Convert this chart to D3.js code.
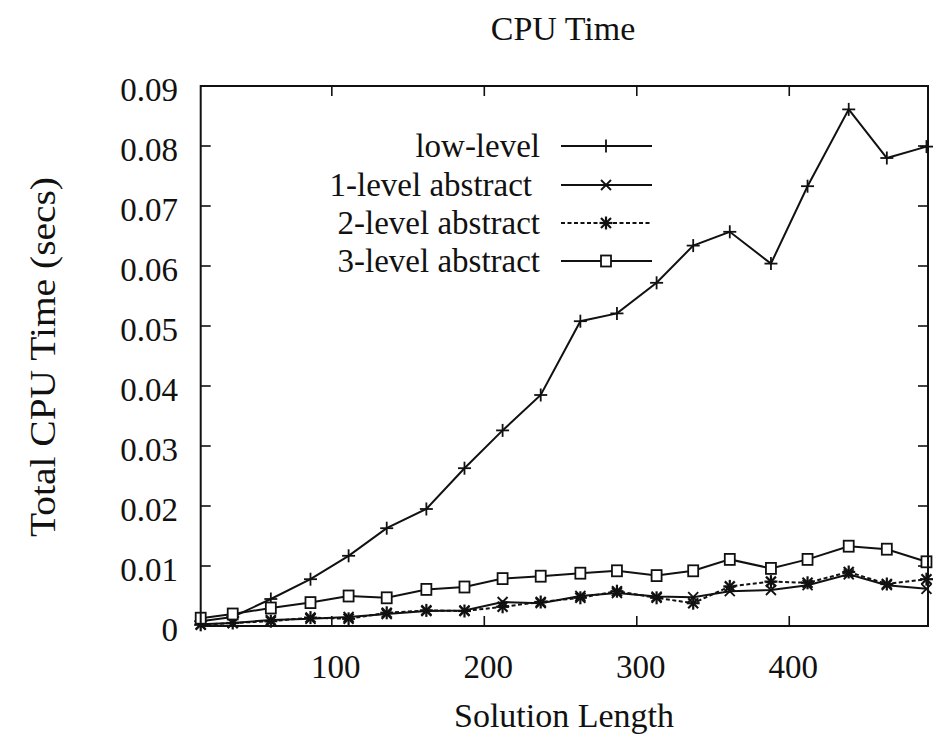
<!DOCTYPE html>
<html>
<head>
<meta charset="utf-8">
<script src="https://cdnjs.cloudflare.com/ajax/libs/d3/7.8.5/d3.min.js"></script>
<style>
  body { margin: 0; background: #fff; }
  text { font-family: "Liberation Serif", "DejaVu Serif", serif; fill: #111; }
</style>
</head>
<body>
<div id="chart"></div>
<script>
var width = 940,
    height = 746;

// solution length (x) for each measured point
var lengths = [14, 35, 60, 86, 111, 136, 162, 187, 212, 237, 263, 287, 313, 337, 361, 388, 412, 439, 464, 490];

// total cpu time in seconds
var lowLevel = [0.0008, 0.0015, 0.0045, 0.0078, 0.0117, 0.0163, 0.0195, 0.0263, 0.0326, 0.0385,
                0.0508, 0.0521, 0.0572, 0.0634, 0.0657, 0.0604, 0.0733, 0.0861, 0.0780, 0.0799];
var oneLevel = [0.0003, 0.0005, 0.0010, 0.0012, 0.0015, 0.0020, 0.0025, 0.0026, 0.0040, 0.0038,
                0.0050, 0.0055, 0.0049, 0.0048, 0.0058, 0.0060, 0.0068, 0.0086, 0.0068, 0.0062];
var twoLevel = [0.0002, 0.0005, 0.0008, 0.0014, 0.0012, 0.0022, 0.0026, 0.0025, 0.0032, 0.0040,
                0.0047, 0.0058, 0.0047, 0.0038, 0.0066, 0.0074, 0.0072, 0.0090, 0.0070, 0.0078];
var threeLevel = [0.0013, 0.0020, 0.0030, 0.0039, 0.0050, 0.0047, 0.0061, 0.0065, 0.0079, 0.0083,
                  0.0088, 0.0092, 0.0084, 0.0092, 0.0111, 0.0096, 0.0111, 0.0133, 0.0128, 0.0107];

var seriesNames = ['low-level', '1-level abstract', '2-level abstract', '3-level abstract'];
var xTicks = [100, 200, 300, 400];
var yTicks = [0, 0.01, 0.02, 0.03, 0.04, 0.05, 0.06, 0.07, 0.08, 0.09];

var series = [
  { name: seriesNames[0], values: lowLevel, marker: 'plus', dash: null },
  { name: seriesNames[1], values: oneLevel, marker: 'cross', dash: null },
  { name: seriesNames[2], values: twoLevel, marker: 'star', dash: '4,2.5' },
  { name: seriesNames[3], values: threeLevel, marker: 'square', dash: null }
];

// plot box
var plotL = 200.7, plotR = 928, plotT = 86, plotB = 626;

var svg = d3.select('#chart')
  .append('svg')
  .attr('width', width)
  .attr('height', height);

var x = d3.scaleLinear().domain([14, 491]).range([plotL, plotR]);
var y = d3.scaleLinear().domain([0, 0.09]).range([plotB, plotT]);

// ticks (inward, mirrored on all sides)
var tickLen = 10;
var axes = svg.append('g').attr('stroke', '#111').attr('stroke-width', 1.6);

xTicks.forEach(function(t) {
  axes.append('line').attr('x1', x(t)).attr('x2', x(t)).attr('y1', plotB).attr('y2', plotB - tickLen);
  axes.append('line').attr('x1', x(t)).attr('x2', x(t)).attr('y1', plotT).attr('y2', plotT + tickLen);
});
yTicks.forEach(function(t) {
  axes.append('line').attr('x1', plotL).attr('x2', plotL + tickLen).attr('y1', y(t)).attr('y2', y(t));
  axes.append('line').attr('x1', plotR).attr('x2', plotR - tickLen).attr('y1', y(t)).attr('y2', y(t));
});

// tick labels
svg.append('g').selectAll('text')
  .data(xTicks)
  .enter()
  .append('text')
  .attr('x', function(d) { return x(d) + 4 })
  .attr('y', 678)
  .attr('text-anchor', 'middle')
  .style('font-size', '33px')
  .text(function(d) { return d });

svg.append('g').selectAll('text')
  .data(yTicks)
  .enter()
  .append('text')
  .attr('x', 178)
  .attr('y', function(d) { return y(d) + 15 })
  .attr('text-anchor', 'end')
  .style('font-size', '33px')
  .text(function(d) { return d === 0 ? '0' : d3.format('.2f')(d) });

// titles
svg.append('text')
  .attr('x', 563).attr('y', 40)
  .attr('text-anchor', 'middle')
  .style('font-size', '34px')
  .text('CPU Time');

svg.append('text')
  .attr('x', 564).attr('y', 727)
  .attr('text-anchor', 'middle')
  .style('font-size', '34px')
  .text('Solution Length');

svg.append('text')
  .attr('transform', 'translate(55,357) rotate(-90)')
  .attr('text-anchor', 'middle')
  .attr('textLength', 360)
  .attr('lengthAdjust', 'spacingAndGlyphs')
  .style('font-size', '36px')
  .text('Total CPU Time (secs)');

// marker shapes
function drawMarker(g, type, cx, cy) {
  var s = 6.5;
  if (type === 'plus' || type === 'star') {
    g.append('line').attr('x1', cx - s).attr('x2', cx + s).attr('y1', cy).attr('y2', cy);
    g.append('line').attr('x1', cx).attr('x2', cx).attr('y1', cy - s).attr('y2', cy + s);
  }
  if (type === 'cross' || type === 'star') {
    var c = 5;
    g.append('line').attr('x1', cx - c).attr('x2', cx + c).attr('y1', cy - c).attr('y2', cy + c);
    g.append('line').attr('x1', cx - c).attr('x2', cx + c).attr('y1', cy + c).attr('y2', cy - c);
  }
  if (type === 'square') {
    g.append('rect').attr('x', cx - 5).attr('y', cy - 5.5).attr('width', 10).attr('height', 11)
      .attr('fill', '#fff');
  }
}

var line = d3.line()
  .x(function(d, i) { return x(lengths[i]) })
  .y(function(d) { return y(d) });

var plot = svg.append('g');

series.forEach(function(s) {
  plot.append('path')
    .datum(s.values)
    .attr('d', line)
    .attr('fill', 'none')
    .attr('stroke', '#111')
    .attr('stroke-width', 2)
    .attr('stroke-dasharray', s.dash);

  var mg = plot.append('g').attr('stroke', '#111').attr('stroke-width', s.marker === 'star' ? 2.2 : 1.8).attr('fill', 'none');
  s.values.forEach(function(v, i) {
    drawMarker(mg, s.marker, x(lengths[i]), y(v));
  });
});

// legend
var legendY = [146, 185, 223, 261];
var legend = svg.append('g');
series.forEach(function(s, i) {
  legend.append('text')
    .attr('x', i === 1 ? 532 : 540)
    .attr('y', legendY[i] + 11)
    .attr('text-anchor', 'end')
    .style('font-size', '33px')
    .text(s.name);
  legend.append('line')
    .attr('x1', 561).attr('x2', 652)
    .attr('y1', legendY[i]).attr('y2', legendY[i])
    .attr('stroke', '#111')
    .attr('stroke-width', 2)
    .attr('stroke-dasharray', s.dash);
  var mg = legend.append('g').attr('stroke', '#111').attr('stroke-width', s.marker === 'star' ? 2.2 : 1.8).attr('fill', 'none');
  drawMarker(mg, s.marker, 606, legendY[i]);
});

// frame
svg.append('rect')
  .attr('x', plotL).attr('y', plotT)
  .attr('width', plotR - plotL).attr('height', plotB - plotT)
  .attr('fill', 'none')
  .attr('stroke', '#111')
  .attr('stroke-width', 2);
</script>
</body>
</html>
